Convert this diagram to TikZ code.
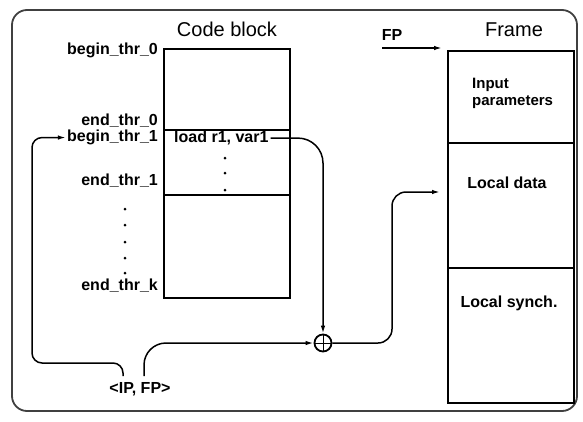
\documentclass[tikz,border=0pt]{standalone}
\usepackage{fontspec}
\setmainfont{Liberation Sans}
\usetikzlibrary{arrows.meta}
\begin{document}
\begin{tikzpicture}[x=1pt,y=-1pt,
  lbl/.style={font=\fontsize{16}{18}\selectfont\bfseries, inner sep=0pt},
  ttl/.style={font=\fontsize{20}{22}\selectfont, inner sep=0pt},
  boxx/.style={draw, line width=2.4pt, inner sep=0pt, anchor=north west},
  divider/.style={line width=1.4pt},
  conn/.style={line width=1.5pt, -{Latex[length=8pt,width=4.5pt]}},
  dotmark/.style={fill=black}]
\useasboundingbox (0,0) rectangle (583,421);
% outer frame
\draw[line width=1.8pt, black!75, rounded corners=15pt] (12,10) rectangle (577,411);

% code block
\node[boxx, minimum width=126pt, minimum height=249pt] (cb) at (163,48) {};
\draw[divider] (cb.west |- 0,130) -- (cb.east |- 0,130);
\draw[divider] (cb.west |- 0,195) -- (cb.east |- 0,195);
\node[ttl] (cbt) at (227,29) {Code block};

% frame
\node[boxx, minimum width=126pt, minimum height=352pt] (fr) at (447,50) {};
\draw[divider] (fr.west |- 0,143) -- (fr.east |- 0,143);
\draw[divider] (fr.west |- 0,268) -- (fr.east |- 0,268);
\node[ttl] (frt) at (514,30) {Frame};
\node[lbl, align=left, anchor=west, font=\fontsize{15}{17}\selectfont\bfseries] (inp) at (472,93) {Input\\parameters};
\node[lbl] (ldat) at (507,183) {Local data};
\node[lbl] (lsyn) at (509,303) {Local synch.};

% FP pointer
\node[lbl] (fp) at (392,35) {FP};
\coordinate (fps) at (382,48);
\coordinate (fpe) at (442,48);
\draw[conn] (fps) -- (fpe);

% labels left of code block
\node[lbl, anchor=mid east] (b0) at (158,52) {begin\_thr\_0};
\node[lbl, anchor=mid east] (e0) at (158,122.5) {end\_thr\_0};
\node[lbl, anchor=mid east] (b1) at (158,139) {begin\_thr\_1};
\node[lbl, anchor=mid east] (e1) at (158,183) {end\_thr\_1};
\node[lbl, anchor=mid east] (ek) at (158,288) {end\_thr\_k};
\foreach \yy in {209,225,242,258,273} \fill[dotmark] (125,\yy) circle (1.5pt);

% inside code block
\node[lbl, anchor=mid west] (ld) at (174,140) {load r1, var1};
\foreach \yy in {158,173,190} \fill[dotmark] (225,\yy) circle (1.5pt);

% sum
\node[circle, draw, line width=1.8pt, minimum size=17pt, inner sep=0pt] (sum) at (323,343) {};
\draw[line width=0.8pt] (sum.north) -- (sum.south) (sum.west) -- (sum.east);

% IP,FP
\node[lbl] (ip) at (140,389) {<IP, FP>};
\coordinate (ipl) at (123,376);
\coordinate (ipr) at (144,376);
\coordinate (ldin) at (440,192);

% connectors
\draw[conn, rounded corners=25pt] ([xshift=2pt]ld.east) -| (sum.north);
\draw[conn, rounded corners=14pt] (sum.east) -- (392,343) -- (392,192) -- (ldin);
\draw[conn, rounded corners=10pt] (ipl) |- (32,363) |- ([xshift=-1pt]b1.west);
\draw[conn, rounded corners=22pt] (ipr) |- (sum.west);
\end{tikzpicture}
\end{document}
